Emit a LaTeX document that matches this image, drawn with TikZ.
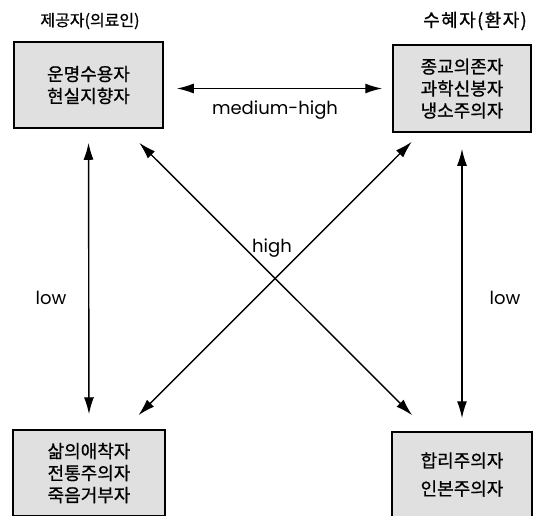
\documentclass[tikz,border=0pt]{standalone}
\usepackage{fontspec}
\setmainfont{Poppins}
\newfontfamily\kor[FakeBold=0.8]{Noto Sans CJK KR}
\usetikzlibrary{arrows.meta}
\tikzset{%
  box/.style={draw, line width=1.5pt, fill=gray!24, inner sep=0pt, align=center,
              font=\kor\fontsize{18}{22}\selectfont},
  dbl/.style={{Latex[length=17pt,width=10pt]}-{Latex[length=17pt,width=10pt]},
              line width=1.4pt},
  lbl/.style={inner sep=0pt, font=\fontsize{18}{20}\selectfont},
  head/.style={inner sep=0pt, font=\kor\fontsize{16}{18}\selectfont},
}

\begin{document}
\begin{tikzpicture}[x=1pt, y=-1pt]
\useasboundingbox (0,0) rectangle (539,515);

% Group titles
\node[head] (P) at (90,21) {제공자(의료인)};
\node[head, font=\kor\fontsize{18}{20}\selectfont\addfontfeatures{LetterSpace=8}] (Q) at (475,21) {수혜자(환자)};

% The four boxes
\node[box, minimum width=149pt, minimum height=86pt] (A) at (88.5,85) {운명수용자\\현실지향자};
\node[box, minimum width=138pt, minimum height=87pt] (B) at (462,88.5) {종교의존자\\과학신봉자\\냉소주의자};
\node[box, minimum width=152pt, minimum height=86pt] (C) at (89,473) {삶의애착자\\전통주의자\\죽음거부자};
\node[box, minimum width=140pt, minimum height=85pt,
      font=\kor\fontsize{18}{28}\selectfont] (D) at (462,474.5) {합리주의자\\인본주의자};

% Horizontal link
\draw[dbl, shorten <=13pt, shorten >=10pt] (A.east |- B.west) -- (B.west);
\node[lbl] (mh) at (275,110) {medium-high};

% Vertical links
\draw[dbl, shorten <=14pt, shorten >=15pt] (A.south) -- (C.north);
\draw[dbl, shorten <=16pt, shorten >=13pt] (B.south) -- (D.north);
\node[lbl] (lowL) at (51,298) {low};
\node[lbl] (lowR) at (505,298) {low};

% Diagonal links
\draw[dbl, shorten <=19.8pt, shorten >=22.6pt] (A.-50.5) -- (D.128.7);
\draw[dbl, shorten <=12.7pt, shorten >=19.8pt] (B.-133.3) -- (C.51.7);
\node[lbl] (hi) at (272,248) {high};

\end{tikzpicture}
\end{document}
